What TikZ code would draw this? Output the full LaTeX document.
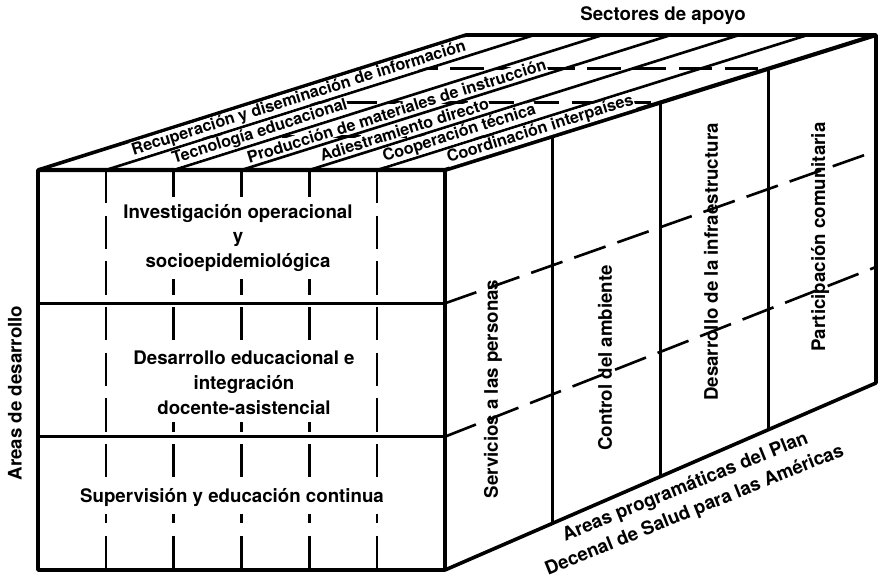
\documentclass[tikz,border=0pt]{standalone}
\usepackage{fontspec}
\setmainfont{TeX Gyre Heros}
\usetikzlibrary{calc}

\begin{document}
\begin{tikzpicture}[x=0.01in,y=0.01in,
  edge/.style={line width=2.6pt},
  inner/.style={line width=1.9pt},
  hidden/.style={line width=1.9pt,dash pattern=on 24pt off 9pt},
  lbl/.style={font=\fontsize{13.5}{18}\selectfont\bfseries,align=center},
  toplbl/.style={font=\fontsize{11.7}{14}\selectfont\bfseries,fill=white,inner sep=0.5pt},
  frontlbl/.style={lbl,fill=white,inner xsep=2pt,inner ysep=5pt}]
\useasboundingbox (0,0) rectangle (878,580);
% corners of the box
\coordinate (FTL) at (38,410);
\coordinate (FTR) at (445,410);
\coordinate (FBL) at (38,10);
\coordinate (FBR) at (445,10);
\coordinate (BTL) at (466,545);
\coordinate (BTR) at (876,545);
\coordinate (BBR) at (876,197);

% hidden lines
\foreach \k in {1,...,5}
  \draw[hidden] ($(FTL)!\k/6!(FTR)$) -- ($(FBL)!\k/6!(FBR)$);
\foreach \k in {1,2}
  \draw[hidden] ($(FTR)!\k/3!(FBR)$) -- ($(BTR)!\k/3!(BBR)$);
\foreach \k in {1,2,3}
  \draw[hidden] ($(FTL)!\k/4!(BTL)$) -- ($(FTR)!\k/4!(BTR)$);

% solid lines
\foreach \k in {1,2}
  \draw[inner] ($(FTL)!\k/3!(FBL)$) -- ($(FTR)!\k/3!(FBR)$);
\foreach \k in {1,2,3}
  \draw[inner] ($(FTR)!\k/4!(BTR)$) -- ($(FBR)!\k/4!(BBR)$);
\foreach \k in {1,...,5}
  \draw[inner] ($(FTL)!\k/6!(FTR)$) -- ($(BTL)!\k/6!(BTR)$);

% outline
\draw[edge,line join=round] (FTL) -- (BTL) -- (BTR) -- (BBR) -- (FBR) -- (FBL) -- cycle;
\draw[edge,line width=3pt] (FTL) -- (FTR) -- (BTR);
\draw[edge] (FTR) -- (FBR);

% top face (sectores)
\path ($(FTL)!0.5/6!(FTR)$) -- ($(BTL)!0.5/6!(BTR)$)
  node[toplbl,sloped,pos=0.53] (s1) {Recuperación y diseminación de información};
\path ($(FTL)!1.5/6!(FTR)$) -- ($(BTL)!1.5/6!(BTR)$)
  node[toplbl,sloped,pos=0.28] (s2) {Tecnología educacional};
\path ($(FTL)!2.5/6!(FTR)$) -- ($(BTL)!2.5/6!(BTR)$)
  node[toplbl,sloped,pos=0.44] (s3) {Producción de materiales de instrucción};
\path ($(FTL)!3.5/6!(FTR)$) -- ($(BTL)!3.5/6!(BTR)$)
  node[toplbl,sloped,pos=0.30] (s4) {Adiestramiento directo};
\path ($(FTL)!4.5/6!(FTR)$) -- ($(BTL)!4.5/6!(BTR)$)
  node[toplbl,sloped,pos=0.27] (s5) {Cooperación técnica};
\path ($(FTL)!5.5/6!(FTR)$) -- ($(BTL)!5.5/6!(BTR)$)
  node[toplbl,sloped,pos=0.30] (s6) {Coordinación interpaíses};

% front face (areas de desarrollo)
\node[frontlbl] (d1) at (238,342) {Investigación operacional\\y\\socioepidemiológica};
\node[frontlbl] (d2) at (244,197) {Desarrollo educacional e\\integración\\docente-asistencial};
\node[frontlbl] (d3) at (232,82) {Supervisión y educación continua};

% right face (areas programaticas)
\node[lbl,rotate=90] (p1) at (493,191) {Servicios a las personas};
\node[lbl,rotate=90] (p2) at (605,222) {Control del ambiente};
\node[lbl,rotate=90] (p3) at (711,318) {Desarrollo de la infraestructura};
\node[lbl,rotate=90] (p4) at (820,343) {Participación comunitaria};

% axis titles
\node[lbl] (sa) at (663,564) {Sectores de apoyo};
\node[lbl,rotate=90] (ad) at (15,187) {Areas de desarrollo};
\node[lbl,rotate=22] (ap) at (690,81) {Areas programáticas del Plan\\Decenal de Salud para las Américas};
\end{tikzpicture}
\end{document}
